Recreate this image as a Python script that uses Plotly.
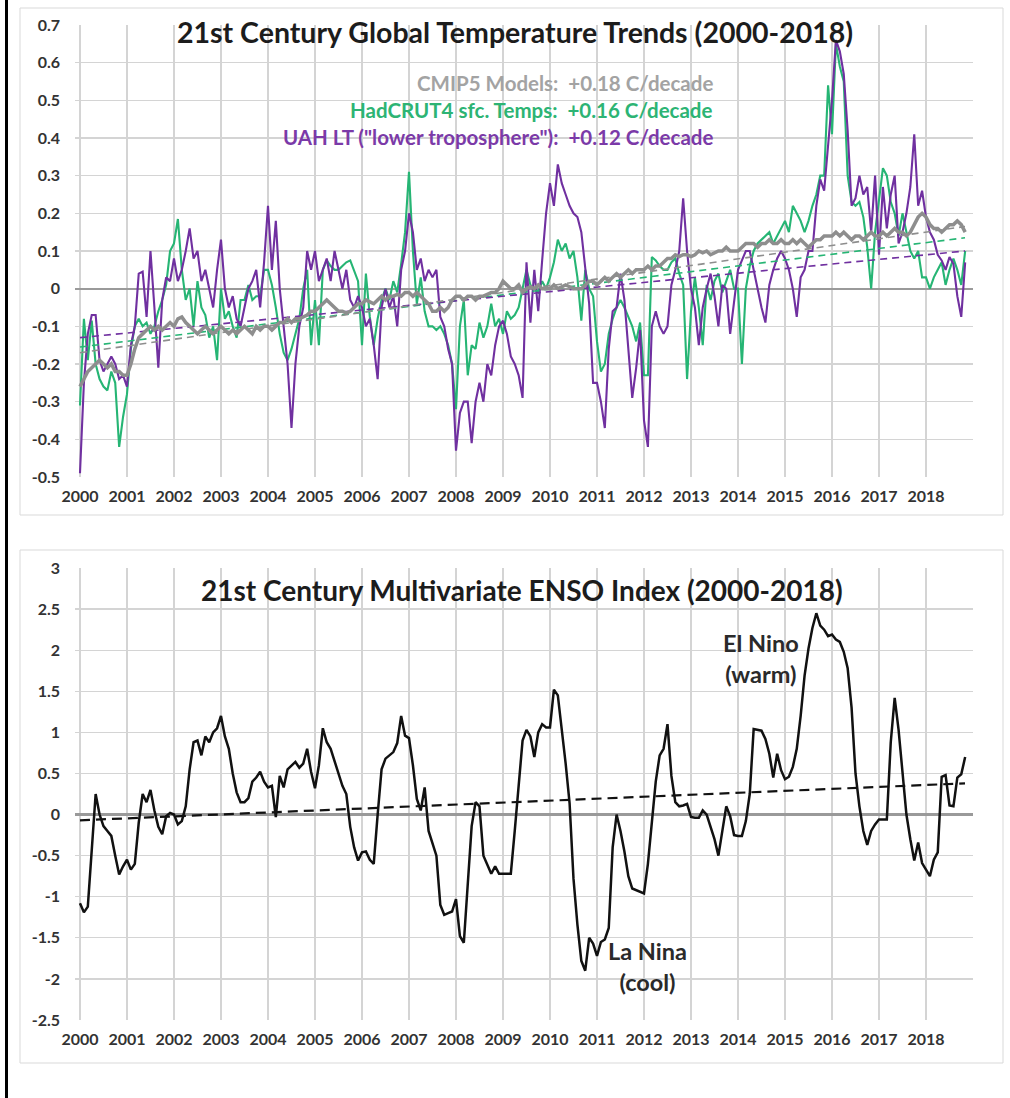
import numpy as np
import plotly.graph_objects as go

W, H = 1010, 1098

# ---------------- DATA ----------------
year_ticks = list(range(2000, 2020))
year_labels = [str(y) for y in range(2000, 2019)] + [""]

temp_ticks = [0.7, 0.6, 0.5, 0.4, 0.3, 0.2, 0.1, 0, -0.1, -0.2, -0.3, -0.4, -0.5]
temp_labels = ["0.7", "0.6", "0.5", "0.4", "0.3", "0.2", "0.1", "0", "-0.1", "-0.2", "-0.3", "-0.4", "-0.5"]
enso_ticks = [3, 2.5, 2, 1.5, 1, 0.5, 0, -0.5, -1, -1.5, -2, -2.5]
enso_labels = ["3", "2.5", "2", "1.5", "1", "0.5", "0", "-0.5", "-1", "-1.5", "-2", "-2.5"]

start_year = 2000  # monthly series, Jan 2000 .. Nov 2018

uah_lt = [
    -0.49, -0.25, -0.12, -0.07, -0.07, -0.19, -0.22, -0.20, -0.18, -0.20, -0.24, -0.23,
    -0.26, -0.15, -0.10, 0.04, 0.045, -0.075, 0.10, -0.05, -0.21, -0.03, 0.03, 0.02,
    0.08, 0.02, 0.05, 0.10, 0.16, 0.08, 0.10, 0.02, 0.05, 0.00, -0.05, 0.05,
    0.13, 0.00, -0.05, -0.02, -0.08, -0.10, -0.05, 0.00, 0.02, 0.05, -0.05, 0.07,
    0.22, 0.05, 0.18, 0.00, -0.10, -0.20, -0.37, -0.20, -0.10, -0.05, 0.10, 0.05,
    0.10, 0.02, 0.05, 0.08, 0.02, 0.10, 0.05, 0.00, 0.05, -0.03, -0.05, -0.02,
    -0.05, -0.10, -0.08, -0.15, -0.24, -0.05, 0.00, -0.05, -0.02, -0.10, 0.05, 0.10,
    0.20, 0.15, 0.05, 0.08, 0.02, 0.05, 0.03, 0.05, -0.075, -0.10, -0.16, -0.20,
    -0.43, -0.33, -0.30, -0.30, -0.41, -0.30, -0.25, -0.30, -0.20, -0.23, -0.15, -0.10,
    -0.085, -0.12, -0.18, -0.20, -0.23, -0.29, 0.07, -0.09, 0.05, -0.06, 0.075, 0.20,
    0.28, 0.22, 0.33, 0.28, 0.25, 0.22, 0.20, 0.19, 0.15, 0.05, -0.04, -0.25,
    -0.25, -0.30, -0.37, -0.16, -0.06, -0.05, 0.04, -0.03, -0.15, -0.29, -0.21, -0.11,
    -0.35, -0.42, -0.10, -0.06, -0.10, -0.12, -0.10, 0.01, 0.05, 0.10, 0.24, 0.10,
    0.00, -0.05, -0.15, -0.05, 0.00, 0.04, -0.02, -0.10, 0.01, 0.00, -0.12, -0.03,
    0.05, 0.075, 0.10, 0.10, 0.05, 0.00, -0.05, -0.09, 0.01, 0.05, 0.08, 0.10,
    0.08, 0.05, 0.00, -0.075, 0.03, 0.05, 0.10, 0.10, 0.22, 0.29, 0.26, 0.38,
    0.50, 0.66, 0.63, 0.57, 0.42, 0.22, 0.24, 0.30, 0.25, 0.27, 0.15, 0.30,
    0.09, 0.27, 0.16, 0.25, 0.30, 0.12, 0.15, 0.20, 0.27, 0.41, 0.22, 0.26,
    0.19, 0.15, 0.13, 0.09, 0.075, 0.05, 0.084, 0.066, -0.02, -0.075, 0.07,
]

hadcrut4 = [
    -0.31, -0.08, -0.19, -0.085, -0.20, -0.24, -0.26, -0.27, -0.22, -0.25, -0.42, -0.34,
    -0.28, -0.16, -0.10, -0.08, -0.10, -0.09, -0.12, -0.10, -0.06, -0.03, 0.01, 0.10,
    0.12, 0.185, 0.05, -0.03, 0.00, -0.10, 0.02, -0.05, -0.07, -0.13, -0.10, -0.19,
    0.00, -0.08, -0.06, -0.10, -0.13, -0.03, -0.03, 0.01, -0.03, -0.02, -0.02, 0.05,
    0.05, 0.01, -0.05, -0.12, -0.17, -0.19, -0.16, -0.12, -0.08, 0.00, 0.05, -0.15,
    -0.03, -0.15, 0.05, 0.075, 0.06, 0.05, 0.05, 0.06, 0.07, 0.075, 0.05, 0.02,
    -0.15, 0.04, -0.075, -0.15, -0.08, -0.03, 0.00, -0.03, 0.02, -0.01, 0.066, 0.15,
    0.31, 0.10, -0.04, 0.03, -0.06, -0.10, -0.10, -0.11, -0.10, -0.12, -0.15, -0.20,
    -0.32, -0.10, -0.03, -0.23, -0.15, -0.16, -0.09, -0.13, -0.10, -0.04, -0.10, -0.08,
    -0.12, -0.06, -0.08, -0.07, -0.05, 0.00, 0.05, 0.01, 0.00, -0.01, 0.02, 0.00,
    0.03, 0.07, 0.13, 0.10, 0.12, 0.08, 0.10, 0.03, -0.085, 0.05, 0.00, -0.02,
    -0.14, -0.22, -0.20, -0.12, -0.08, -0.05, -0.03, -0.05, -0.075, -0.10, -0.14, -0.09,
    -0.23, -0.23, 0.084, 0.075, 0.06, 0.05, 0.05, 0.07, 0.08, 0.04, 0.01, -0.24,
    -0.06, 0.03, -0.05, -0.15, 0.01, -0.03, 0.02, 0.04, -0.01, 0.02, 0.05, 0.00,
    0.00, -0.20, 0.00, 0.06, 0.10, 0.12, 0.13, 0.14, 0.15, 0.12, 0.14, 0.16,
    0.18, 0.15, 0.22, 0.20, 0.18, 0.15, 0.18, 0.22, 0.25, 0.30, 0.30, 0.54,
    0.41, 0.65, 0.59, 0.55, 0.30, 0.23, 0.22, 0.23, 0.19, 0.11, 0.00, 0.15,
    0.23, 0.32, 0.30, 0.23, 0.20, 0.14, 0.20, 0.15, 0.10, 0.08, 0.10, 0.03,
    0.03, 0.00, 0.03, 0.05, 0.07, 0.01, 0.05, 0.08, 0.05, 0.01, 0.10,
]

cmip5 = [
    -0.26, -0.24, -0.22, -0.21, -0.20, -0.19, -0.20, -0.21, -0.20, -0.22, -0.22, -0.23,
    -0.23, -0.20, -0.16, -0.13, -0.12, -0.11, -0.10, -0.11, -0.10, -0.11, -0.10, -0.09,
    -0.10, -0.08, -0.075, -0.09, -0.10, -0.11, -0.12, -0.11, -0.10, -0.11, -0.12, -0.11,
    -0.10, -0.11, -0.12, -0.11, -0.12, -0.11, -0.10, -0.11, -0.12, -0.10, -0.11, -0.10,
    -0.10, -0.11, -0.10, -0.09, -0.09, -0.08, -0.09, -0.08, -0.08, -0.075, -0.07, -0.06,
    -0.06, -0.05, -0.04, -0.03, -0.04, -0.05, -0.06, -0.06, -0.065, -0.06, -0.05, -0.04,
    -0.04, -0.03, -0.035, -0.04, -0.03, -0.02, -0.03, -0.02, -0.02, -0.015, -0.02, -0.01,
    -0.01, -0.02, -0.01, -0.02, -0.03, -0.04, -0.06, -0.06, -0.05, -0.06, -0.05, -0.03,
    -0.02, -0.02, -0.03, -0.02, -0.02, -0.03, -0.02, -0.02, -0.015, -0.01, -0.01, 0.00,
    0.02, 0.01, 0.00, 0.00, 0.01, -0.01, 0.00, 0.005, 0.00, 0.01, 0.00, 0.00,
    0.00, 0.01, 0.00, 0.005, 0.01, 0.005, 0.00, 0.00, 0.00, 0.01, 0.02, 0.02,
    0.01, 0.02, 0.03, 0.02, 0.03, 0.04, 0.03, 0.04, 0.05, 0.04, 0.05, 0.05,
    0.05, 0.06, 0.05, 0.06, 0.06, 0.07, 0.08, 0.08, 0.09, 0.085, 0.09, 0.09,
    0.085, 0.09, 0.10, 0.095, 0.10, 0.09, 0.095, 0.10, 0.10, 0.11, 0.10, 0.10,
    0.10, 0.11, 0.12, 0.12, 0.12, 0.11, 0.12, 0.12, 0.13, 0.12, 0.12, 0.13,
    0.12, 0.12, 0.13, 0.12, 0.13, 0.12, 0.11, 0.12, 0.13, 0.13, 0.14, 0.14,
    0.14, 0.15, 0.14, 0.15, 0.14, 0.13, 0.14, 0.14, 0.13, 0.14, 0.15, 0.14,
    0.14, 0.15, 0.14, 0.15, 0.16, 0.15, 0.15, 0.14, 0.15, 0.17, 0.19, 0.20,
    0.19, 0.17, 0.16, 0.16, 0.15, 0.16, 0.17, 0.17, 0.18, 0.17, 0.15,
]

mei = [
    -1.08, -1.19, -1.12, -0.45, 0.25, 0.00, -0.14, -0.20, -0.26, -0.50, -0.73, -0.63,
    -0.55, -0.67, -0.60, -0.10, 0.25, 0.15, 0.30, 0.05, -0.15, -0.24, -0.02, 0.02,
    0.00, -0.12, -0.08, 0.10, 0.55, 0.88, 0.90, 0.72, 0.95, 0.88, 1.00, 1.05,
    1.20, 0.95, 0.80, 0.50, 0.27, 0.15, 0.15, 0.20, 0.40, 0.45, 0.52, 0.40,
    0.33, 0.35, -0.03, 0.47, 0.33, 0.55, 0.60, 0.64, 0.57, 0.62, 0.80, 0.52,
    0.32, 0.60, 1.05, 0.88, 0.80, 0.65, 0.50, 0.35, 0.25, -0.15, -0.40, -0.56,
    -0.46, -0.45, -0.55, -0.60, 0.00, 0.55, 0.68, 0.72, 0.76, 0.87, 1.20, 0.96,
    0.93, 0.60, 0.19, 0.05, 0.33, -0.20, -0.35, -0.50, -1.10, -1.22, -1.20, -1.18,
    -1.03, -1.48, -1.56, -0.90, -0.14, 0.15, 0.10, -0.50, -0.60, -0.72, -0.63, -0.72,
    -0.72, -0.72, -0.72, -0.20, 0.32, 0.90, 1.03, 0.95, 0.70, 1.00, 1.10, 1.06,
    1.06, 1.52, 1.45, 1.05, 0.62, 0.14, -0.78, -1.34, -1.78, -1.90, -1.50, -1.57,
    -1.72, -1.55, -1.52, -1.38, -0.40, 0.00, -0.20, -0.45, -0.75, -0.90, -0.92, -0.94,
    -0.96, -0.60, -0.13, 0.40, 0.72, 0.80, 1.10, 0.47, 0.15, 0.10, 0.11, 0.13,
    -0.03, -0.04, -0.04, 0.05, 0.00, -0.15, -0.30, -0.50, -0.20, 0.10, -0.02, -0.25,
    -0.26, -0.26, -0.08, 0.25, 1.04, 1.03, 1.02, 0.92, 0.74, 0.45, 0.74, 0.54,
    0.43, 0.46, 0.58, 0.80, 1.20, 1.69, 2.02, 2.27, 2.45, 2.30, 2.25, 2.17,
    2.19, 2.13, 2.10, 1.98, 1.78, 1.30, 0.50, 0.10, -0.20, -0.37, -0.20, -0.12,
    -0.06, -0.06, -0.06, 0.88, 1.42, 1.03, 0.50, 0.00, -0.30, -0.56, -0.34, -0.59,
    -0.67, -0.75, -0.55, -0.46, 0.46, 0.48, 0.11, 0.10, 0.45, 0.49, 0.70,
]

trend_x = [2000.0, 2018.83]
uah_trend = [-0.13, 0.10]
had_trend = [-0.155, 0.135]
cmip_trend = [-0.17, 0.165]
mei_trend = [-0.07, 0.38]

# ---------------- STYLE ----------------
PURPLE = "#7030a0"
GREEN = "#26b574"
GRAY = "#8e8e8e"
GRID = "#d4d4d4"
FONT = "Lato"
TICKCOL = "#333333"


def px(x):
    return x / W


def py(y):
    return 1 - y / H


def months(series):
    return start_year + np.arange(len(series)) / 12.0


fig = go.Figure()

# top chart traces
fig.add_trace(go.Scatter(x=months(hadcrut4), y=hadcrut4, mode="lines",
                         line=dict(color=GREEN, width=2.1), xaxis="x", yaxis="y"))
fig.add_trace(go.Scatter(x=months(uah_lt), y=uah_lt, mode="lines",
                         line=dict(color=PURPLE, width=2.1), xaxis="x", yaxis="y"))
fig.add_trace(go.Scatter(x=trend_x, y=had_trend, mode="lines",
                         line=dict(color=GREEN, width=1.6, dash="7px,5px"), xaxis="x", yaxis="y"))
fig.add_trace(go.Scatter(x=trend_x, y=uah_trend, mode="lines",
                         line=dict(color=PURPLE, width=1.6, dash="7px,5px"), xaxis="x", yaxis="y"))
fig.add_trace(go.Scatter(x=trend_x, y=cmip_trend, mode="lines",
                         line=dict(color=GRAY, width=1.6, dash="7px,5px"), xaxis="x", yaxis="y"))
fig.add_trace(go.Scatter(x=months(cmip5), y=cmip5, mode="lines",
                         line=dict(color=GRAY, width=3.5), xaxis="x", yaxis="y"))

# bottom chart traces
fig.add_trace(go.Scatter(x=trend_x, y=mei_trend, mode="lines",
                         line=dict(color="#111111", width=2.2, dash="10px,6px"), xaxis="x2", yaxis="y2"))
fig.add_trace(go.Scatter(x=months(mei), y=mei, mode="lines",
                         line=dict(color="#111111", width=2.5), xaxis="x2", yaxis="y2"))

tickfont = dict(family=FONT, size=16, color=TICKCOL, weight="bold")

xcommon = dict(
    range=[1999.894, 2019.0], tickmode="array", tickvals=year_ticks, ticktext=year_labels,
    showgrid=True, gridcolor=GRID, gridwidth=1.2, zeroline=False, showline=False,
    ticks="", tickfont=tickfont, ticklabelstandoff=8, fixedrange=True, automargin=False,
)
ycommon = dict(
    showgrid=True, gridcolor=GRID, gridwidth=1.2, showline=False, ticks="",
    tickfont=tickfont, ticklabelstandoff=14, tickmode="array", fixedrange=True, automargin=False,
)

fig.update_layout(
    width=W, height=H, autosize=False,
    margin=dict(l=0, r=0, t=0, b=0, pad=0),
    paper_bgcolor="white", plot_bgcolor="white",
    showlegend=False,
    xaxis=dict(domain=[px(75), px(973)], anchor="y", **xcommon),
    yaxis=dict(domain=[py(477), py(25)], anchor="x", range=[-0.5, 0.7],
               tickvals=temp_ticks, ticktext=temp_labels,
               zeroline=True, zerolinecolor="#9a9a9a", zerolinewidth=2, **ycommon),
    xaxis2=dict(domain=[px(75), px(973)], anchor="y2", **xcommon),
    yaxis2=dict(domain=[py(1020), py(568)], anchor="x2", range=[-2.5, 3],
                tickvals=enso_ticks, ticktext=enso_labels,
                zeroline=True, zerolinecolor="#9a9a9a", zerolinewidth=3, **ycommon),
)

shapes = [
    dict(type="rect", xref="paper", yref="paper", x0=px(20), x1=px(1003), y0=py(515), y1=py(8),
         line=dict(color="#d9d9d9", width=1), layer="below"),
    dict(type="rect", xref="paper", yref="paper", x0=px(20), x1=px(1003), y0=py(1063), y1=py(550),
         line=dict(color="#d9d9d9", width=1), layer="below"),
    dict(type="line", xref="paper", yref="paper", x0=px(6.5), x1=px(6.5), y0=0, y1=1,
         line=dict(color="black", width=3)),
]
fig.update_layout(shapes=shapes)

anns = [
    dict(text="21st Century Global Temperature Trends (2000-2018)", x=px(515), y=py(32),
         font=dict(family=FONT, size=28.5, color="#1c1c1c", weight="bold")),
    dict(text="CMIP5 Models:  +0.18 C/decade", x=px(715), y=py(83), xanchor="right",
         font=dict(family=FONT, size=20.5, color="#a3a3a3", weight="bold")),
    dict(text="HadCRUT4 sfc. Temps:  +0.16 C/decade", x=px(715), y=py(110), xanchor="right",
         font=dict(family=FONT, size=20.5, color="#2db474", weight="bold")),
    dict(text="UAH LT (\"lower troposphere\"):  +0.12 C/decade", x=px(715), y=py(137), xanchor="right",
         font=dict(family=FONT, size=20.5, color="#7b3aa8", weight="bold")),
    dict(text="21st Century Multivariate ENSO Index (2000-2018)", x=px(522), y=py(590),
         font=dict(family=FONT, size=28, color="#1c1c1c", weight="bold")),
    dict(text="El Nino<br>(warm)", x=px(761), y=py(658),
         font=dict(family=FONT, size=23.5, color="#2a2a2a", weight="bold")),
    dict(text="La Nina<br>(cool)", x=px(647), y=py(966),
         font=dict(family=FONT, size=23.5, color="#2a2a2a", weight="bold")),
]
for a in anns:
    a.setdefault("xanchor", "center")
    a.update(xref="paper", yref="paper", yanchor="middle", showarrow=False)
fig.update_layout(annotations=anns)

fig.write_html(
    "out.html",
    config={"displayModeBar": False, "staticPlot": True},
    post_script="document.body.style.margin='0';document.documentElement.style.overflow='hidden';",
)
